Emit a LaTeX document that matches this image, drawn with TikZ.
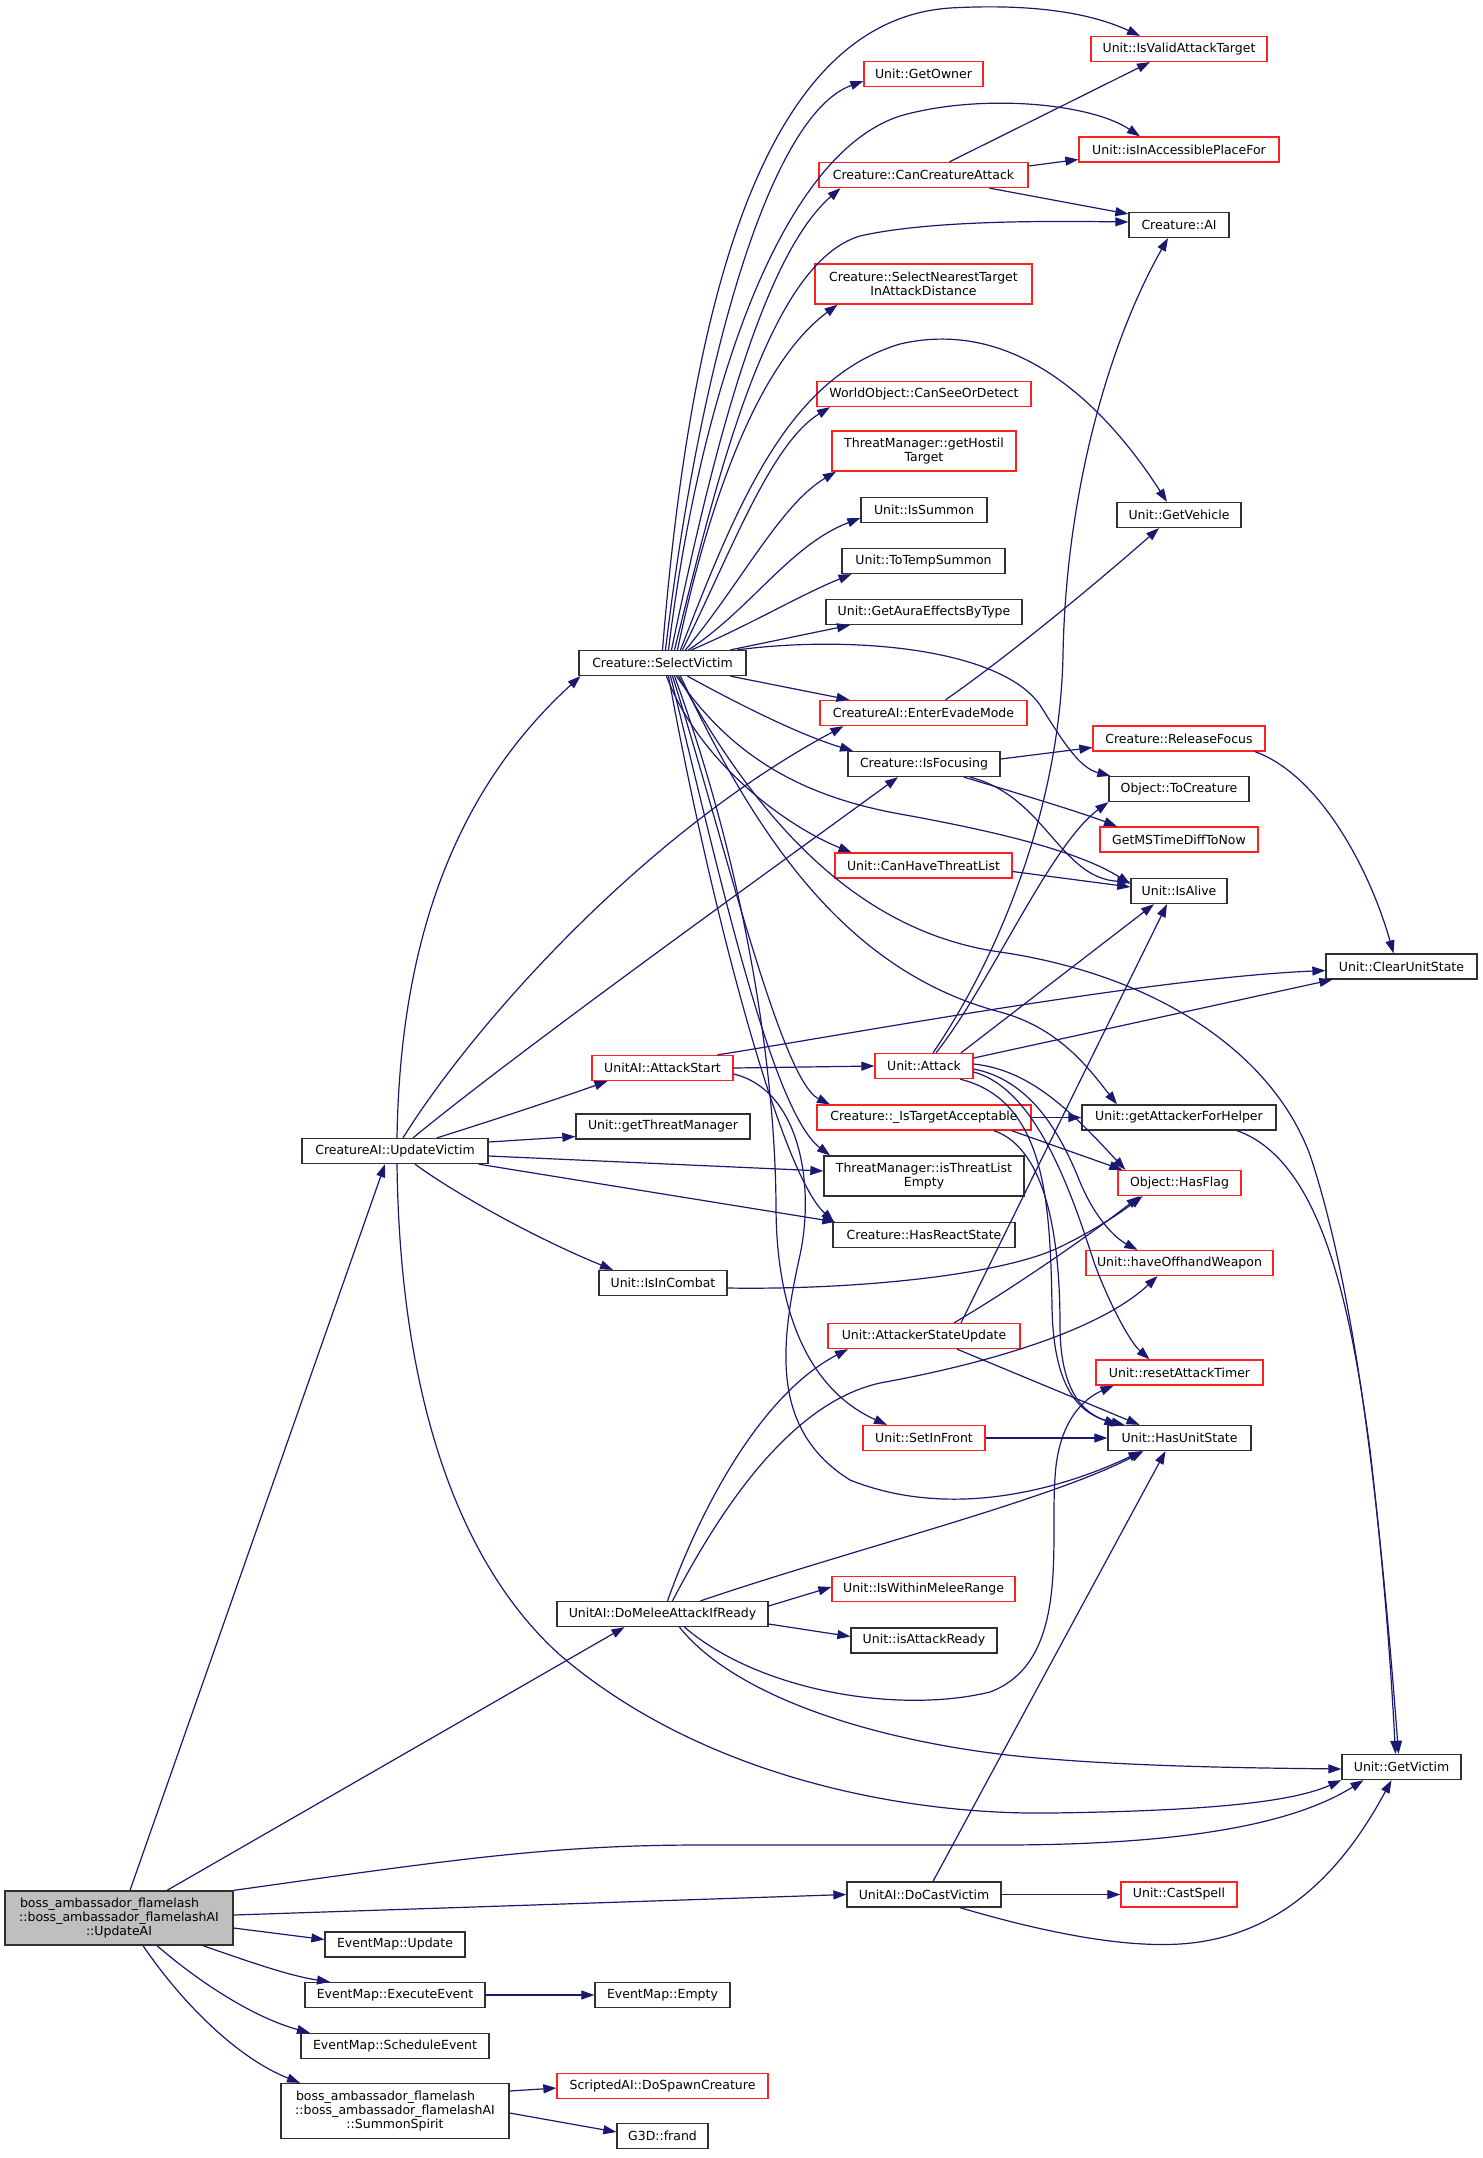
\documentclass[tikz,border=0pt]{standalone}
\usepackage{fontspec}
\newfontfamily\dv{DejaVu Sans}
\usetikzlibrary{arrows.meta}
\definecolor{mblue}{HTML}{191970}
\definecolor{nred}{HTML}{FF2020}
\definecolor{nblk}{HTML}{303030}
\definecolor{rootfill}{HTML}{BFBFBF}
\tikzset{
  nd/.style={draw=nblk, fill=white, line width=1.3pt, inner sep=0pt, minimum height=25pt, align=center,
     font=\dv\fontsize{12.5pt}{14pt}\selectfont},
  bn/.style={nd},
  rn/.style={nd, draw=nred},
  root/.style={nd, fill=rootfill},
  ed/.style={draw=mblue, line width=1.2pt, -{Triangle[length=13pt,width=9pt]}}
}
\begin{document}
\begin{tikzpicture}[x=1pt,y=-1pt]
\fill[white] (0,0) rectangle (1483,2158);
\useasboundingbox (0,0) rectangle (1483,2158);
% nodes
\node[rn, minimum width=176pt] (valid) at (1179,49) {Unit::IsValidAttackTarget};
\node[rn, minimum width=119pt] (owner) at (923.5,74) {Unit::GetOwner};
\node[rn, minimum width=200pt] (access) at (1179,149.5) {Unit::isInAccessiblePlaceFor};
\node[rn, minimum width=209pt] (cca) at (923.5,175) {Creature::CanCreatureAttack};
\node[bn, minimum width=100pt] (ai) at (1179,225) {Creature::AI};
\node[rn, minimum width=217pt, minimum height=40pt] (nearest) at (923.5,284) {Creature::SelectNearestTarget\\InAttackDistance};
\node[rn, minimum width=214pt] (cansee) at (924,394) {WorldObject::CanSeeOrDetect};
\node[rn, minimum width=184pt, minimum height=40pt] (hostil) at (924,451) {ThreatManager::getHostil\\Target};
\node[bn, minimum width=126pt] (issummon) at (924,510) {Unit::IsSummon};
\node[bn, minimum width=124pt] (vehicle) at (1179,515) {Unit::GetVehicle};
\node[bn, minimum width=163pt] (totemp) at (923.5,561) {Unit::ToTempSummon};
\node[bn, minimum width=196pt] (aura) at (924,612) {Unit::GetAuraEffectsByType};
\node[bn, minimum width=167pt] (sv) at (662.5,663) {Creature::SelectVictim};
\node[rn, minimum width=207pt] (evade) at (923.5,713) {CreatureAI::EnterEvadeMode};
\node[rn, minimum width=172pt] (release) at (1179,738.5) {Creature::ReleaseFocus};
\node[bn, minimum width=152pt] (focusing) at (924,764) {Creature::IsFocusing};
\node[bn, minimum width=140pt] (tocreature) at (1179,789) {Object::ToCreature};
\node[rn, minimum width=158pt] (mstime) at (1179,839.5) {GetMSTimeDiffToNow};
\node[rn, minimum width=177pt] (canthreat) at (923.5,865.5) {Unit::CanHaveThreatList};
\node[bn, minimum width=96pt] (isalive) at (1179,891) {Unit::IsAlive};
\node[bn, minimum width=151pt] (clear) at (1401.5,966.5) {Unit::ClearUnitState};
\node[rn, minimum width=141pt] (astart) at (662.5,1068) {UnitAI::AttackStart};
\node[rn, minimum width=98pt] (attack) at (924,1066) {Unit::Attack};
\node[rn, minimum width=214pt] (tacc) at (924,1117.5) {Creature::\_IsTargetAcceptable};
\node[bn, minimum width=194pt] (helper) at (1179,1117.5) {Unit::getAttackerForHelper};
\node[bn, minimum width=186pt] (uvictim) at (395,1151) {CreatureAI::UpdateVictim};
\node[bn, minimum width=174pt] (tmgr) at (663,1126.5) {Unit::getThreatManager};
\node[bn, minimum width=200pt, minimum height=40pt] (tempty) at (924,1176) {ThreatManager::isThreatList\\Empty};
\node[rn, minimum width=123pt] (hasflag) at (1179.5,1183) {Object::HasFlag};
\node[bn, minimum width=182pt] (react) at (924,1235) {Creature::HasReactState};
\node[rn, minimum width=187pt] (offhand) at (1179.5,1263) {Unit::haveOffhandWeapon};
\node[bn, minimum width=128pt] (incombat) at (663,1283) {Unit::IsInCombat};
\node[rn, minimum width=192pt] (asu) at (924,1336) {Unit::AttackerStateUpdate};
\node[rn, minimum width=167pt] (reset) at (1179.5,1372.5) {Unit::resetAttackTimer};
\node[rn, minimum width=122pt] (setfront) at (924,1438) {Unit::SetInFront};
\node[bn, minimum width=143pt] (hus) at (1179.5,1438) {Unit::HasUnitState};
\node[rn, minimum width=183pt] (melee) at (923.5,1589) {Unit::IsWithinMeleeRange};
\node[bn, minimum width=211pt] (domelee) at (662.5,1614) {UnitAI::DoMeleeAttackIfReady};
\node[bn, minimum width=146pt] (aready) at (924,1640.5) {Unit::isAttackReady};
\node[bn, minimum width=119pt] (getvictim) at (1401.5,1767) {Unit::GetVictim};
\node[root, minimum width=228pt, minimum height=54pt] (updateai) at (119,1918) {boss\_ambassador\_flamelash\hspace*{19pt}\\::boss\_ambassador\_flamelashAI\\::UpdateAI};
\node[bn, minimum width=154pt] (docast) at (924,1894.5) {UnitAI::DoCastVictim};
\node[rn, minimum width=116pt] (castspell) at (1179,1894.5) {Unit::CastSpell};
\node[bn, minimum width=140pt] (emupdate) at (395,1944.5) {EventMap::Update};
\node[bn, minimum width=180pt] (execute) at (395,1995) {EventMap::ExecuteEvent};
\node[bn, minimum width=135pt] (empty) at (662.5,1995) {EventMap::Empty};
\node[bn, minimum width=188pt] (schedule) at (395,2046) {EventMap::ScheduleEvent};
\node[bn, minimum width=228pt, minimum height=55pt] (summon) at (395,2111) {boss\_ambassador\_flamelash\hspace*{19pt}\\::boss\_ambassador\_flamelashAI\\::SummonSpirit};
\node[rn, minimum width=211pt] (spawn) at (662.5,2086) {ScriptedAI::DoSpawnCreature};
\node[bn, minimum width=91pt] (frand) at (662.5,2136) {G3D::frand};
% UpdateAI
\draw[ed] ([xshift=11pt]updateai.north) -- ([xshift=-10pt]uvictim.south);
\draw[ed] ([xshift=48pt]updateai.north) -- ([xshift=-38pt]domelee.south);
\draw[ed] (updateai.north east) .. controls (450,1860) and (550,1845) .. (700,1845) -- (1000,1845) .. controls (1200,1845) and (1300,1820) .. ([xshift=-38pt]getvictim.south);
\draw[ed] ([yshift=3pt]updateai.east) -- (docast.west);
\draw[ed] ([yshift=-10pt]updateai.east) -- ([yshift=5pt]emupdate.west);
\draw[ed] ([xshift=84pt]updateai.south) .. controls (250,1962) and (290,1976) .. ([xshift=-65pt]execute.north);
\draw[ed] ([xshift=38pt]updateai.south) .. controls (200,1983) and (255,2018) .. ([xshift=-85pt]schedule.north);
\draw[ed] ([xshift=24pt]updateai.south) .. controls (180,2000) and (235,2057) .. ([xshift=-95pt]summon.north);
\draw[ed] (execute.east) -- (empty.west);
\draw[ed] ([yshift=20pt]summon.east) -- ([yshift=-2pt]spawn.west);
\draw[ed] ([yshift=-2pt]summon.east) -- ([yshift=4pt]frand.west);
% DoCastVictim
\draw[ed] (docast.east) -- (castspell.west);
\draw[ed] ([xshift=9pt]docast.north) -- ([xshift=-14pt]hus.south);
\draw[ed] ([xshift=36pt]docast.south) .. controls (1060,1937) and (1130,1947) .. (1180,1944) .. controls (1290,1937) and (1350,1857) .. ([xshift=-10pt]getvictim.south);
% DoMeleeAttackIfReady
\draw[ed] ([xshift=5pt]domelee.north) .. controls (700,1510) and (760,1395) .. ([xshift=-76pt]asu.south);
\draw[ed] ([xshift=10pt]domelee.north) .. controls (720,1510) and (790,1403) .. (880,1383) .. controls (990,1363) and (1100,1330) .. ([xshift=-22pt]offhand.south);
\draw[ed] ([xshift=38pt]domelee.north) .. controls (850,1550) and (1050,1500) .. ([xshift=-36pt]hus.south);
\draw[ed] ([yshift=8pt]domelee.east) -- ([yshift=2pt]melee.west);
\draw[ed] ([yshift=-10pt]domelee.east) -- ([yshift=4pt]aready.west);
\draw[ed] ([xshift=22pt]domelee.south) .. controls (760,1692) and (900,1714) .. (990,1692) .. controls (1070,1662) and (1050,1545) .. (1055,1478) .. controls (1058,1420) and (1085,1398) .. ([xshift=-66pt]reset.south);
\draw[ed] ([xshift=17pt]domelee.south) .. controls (740,1703) and (900,1748) .. (1050,1759) .. controls (1150,1767) and (1260,1768) .. ([yshift=-2pt]getvictim.west);
% UpdateVictim
\draw[ed] ([xshift=2pt]uvictim.north) .. controls (400,950) and (450,795) .. ([xshift=-82pt]sv.south);
\draw[ed] ([xshift=8pt]uvictim.north) .. controls (470,1030) and (640,835) .. ([xshift=-80pt]evade.south);
\draw[ed] ([xshift=18pt]uvictim.north) .. controls (520,1050) and (750,885) .. ([xshift=-26pt]focusing.south);
\draw[ed] ([xshift=42pt]uvictim.north) .. controls (500,1118) and (560,1098) .. ([xshift=-55pt]astart.south);
\draw[ed] ([yshift=9pt]uvictim.east) -- ([yshift=-10pt]tmgr.west);
\draw[ed] ([yshift=-5pt]uvictim.east) -- ([yshift=5pt]tempty.west);
\draw[ed] ([xshift=-10pt]uvictim.south east) -- ([xshift=3pt]react.north west);
\draw[ed] ([xshift=20pt]uvictim.south) .. controls (450,1190) and (530,1236) .. ([xshift=-50pt]incombat.north);
\draw[ed] ([xshift=2pt]uvictim.south) .. controls (400,1400) and (460,1565) .. (560,1655) .. controls (700,1775) and (900,1815) .. (1050,1813) .. controls (1200,1811) and (1290,1803) .. (getvictim.south west);
% IsInCombat, AttackerStateUpdate, SetInFront
\draw[ed] ([yshift=-5pt]incombat.east) .. controls (850,1290) and (1000,1276) .. (1060,1247) .. controls (1095,1230) and (1120,1213) .. ([xshift=-37pt]hasflag.south);
\draw[ed] ([xshift=30pt]asu.north) .. controls (1010,1290) and (1090,1235) .. ([xshift=-40pt]hasflag.south);
\draw[ed] ([xshift=37pt]asu.north) -- ([xshift=-12pt]isalive.south);
\draw[ed] ([xshift=33pt]asu.south) -- ([xshift=-40pt]hus.north);
\draw[ed] (setfront.east) -- (hus.west);
% AttackStart
\draw[ed] (astart.east) -- (attack.west);
\draw[ed] ([xshift=55pt]astart.north) .. controls (850,1034) and (1150,978) .. ([yshift=-4pt]clear.west);
\draw[ed] ([yshift=-6pt]astart.east) .. controls (800,1090) and (815,1185) .. (800,1255) .. controls (780,1345) and (770,1430) .. (850,1480) .. controls (950,1520) and (1060,1490) .. ([xshift=-38pt]hus.south);
% SelectVictim bottom
\draw[ed] ([xshift=12pt]sv.south) .. controls (740,855) and (775,1055) .. (776,1205) .. controls (776,1330) and (820,1395) .. ([xshift=-37pt]setfront.north);
\draw[ed] ([xshift=10pt]sv.south) .. controls (720,825) and (780,1080) .. ([xshift=-94pt]tacc.north);
\draw[ed] ([xshift=8pt]sv.south) .. controls (715,855) and (770,1110) .. ([xshift=-94pt]tempty.north);
\draw[ed] ([xshift=6pt]sv.south) .. controls (710,905) and (780,1172) .. ([xshift=-90pt]react.north);
\draw[ed] ([xshift=4pt]sv.south) .. controls (700,765) and (790,828) .. ([xshift=-72pt]canthreat.north);
\draw[ed] ([xshift=14pt]sv.south) .. controls (730,755) and (800,796) .. (900,814) .. controls (1000,832) and (1080,852) .. ([yshift=7pt]isalive.west);
\draw[ed] ([xshift=16pt]sv.south) .. controls (760,825) and (860,932) .. (1000,952) .. controls (1150,974) and (1270,1048) .. (1310,1155) .. controls (1360,1305) and (1385,1555) .. ([xshift=-6pt]getvictim.north);
\draw[ed] ([xshift=18pt]sv.south) .. controls (760,845) and (850,972) .. (1000,1012) .. controls (1060,1028) and (1090,1070) .. ([xshift=-62pt]helper.north);
\draw[ed] ([xshift=68pt]sv.south) -- ([xshift=-74pt]evade.north);
\draw[ed] ([xshift=25pt]sv.south) .. controls (740,705) and (800,735) .. ([xshift=-71pt]focusing.north);
% SelectVictim top
\draw[ed] (sv.north) .. controls (690,310) and (760,21) .. (950,8) .. controls (1040,3) and (1095,15) .. ([xshift=-39pt]valid.north);
\draw[ed] ([xshift=3pt]sv.north) .. controls (700,360) and (770,115) .. ([yshift=-7pt]owner.west);
\draw[ed] ([xshift=6pt]sv.north) .. controls (700,392) and (780,155) .. (900,116) .. controls (980,93) and (1090,103) .. ([xshift=-39pt]access.north);
\draw[ed] ([xshift=9pt]sv.north) .. controls (710,465) and (760,258) .. ([xshift=-83pt]cca.south);
\draw[ed] ([xshift=12pt]sv.north) .. controls (720,465) and (770,263) .. (860,236) .. controls (930,220) and (1050,221) .. ([yshift=3pt]ai.west);
\draw[ed] ([xshift=15pt]sv.north) .. controls (710,495) and (760,362) .. ([xshift=-86pt]nearest.south);
\draw[ed] ([xshift=18pt]sv.north) .. controls (740,496) and (790,377) .. (900,344) .. controls (1020,316) and (1110,413) .. ([xshift=-12pt]vehicle.north);
\draw[ed] ([xshift=20pt]sv.north) .. controls (730,555) and (770,444) .. ([xshift=-94pt]cansee.south);
\draw[ed] ([xshift=23pt]sv.north) .. controls (740,585) and (780,505) .. ([xshift=-88pt]hostil.south);
\draw[ed] ([xshift=26pt]sv.north) .. controls (750,610) and (790,545) .. ([yshift=-8pt]issummon.west);
\draw[ed] ([xshift=29pt]sv.north) .. controls (750,625) and (800,595) .. ([xshift=-72pt]totemp.south);
\draw[ed] ([xshift=68pt]sv.north) -- ([xshift=-74pt]aura.south);
\draw[ed] ([xshift=75pt]sv.north) .. controls (850,635) and (1000,648) .. (1040,705) .. controls (1065,745) and (1080,768) .. ([xshift=2pt]tocreature.north west);
% CanCreatureAttack
\draw[ed] ([xshift=26pt]cca.north) -- ([xshift=-29pt]valid.south);
\draw[ed] ([yshift=9pt]cca.east) -- ([yshift=-10pt]access.west);
\draw[ed] ([xshift=66pt]cca.south) -- ([yshift=11pt]ai.west);
% EnterEvadeMode, IsFocusing, ReleaseFocus, CanHaveThreatList
\draw[ed] ([xshift=22pt]evade.north) .. controls (1010,655) and (1100,580) .. ([xshift=-20pt]vehicle.south);
\draw[ed] ([yshift=5pt]focusing.east) -- ([yshift=-9pt]release.west);
\draw[ed] ([xshift=40pt]focusing.south) .. controls (1010,791) and (1080,812) .. ([xshift=-62pt]mstime.north);
\draw[ed] ([xshift=46pt]focusing.south) .. controls (1045,796) and (1060,878) .. ([yshift=9pt]isalive.west);
\draw[ed] ([xshift=76pt]release.south) .. controls (1320,775) and (1370,870) .. ([xshift=-8pt]clear.north);
\draw[ed] ([yshift=-6pt]canthreat.east) -- ([yshift=4pt]isalive.west);
% Unit::Attack
\draw[ed] ([xshift=9pt]attack.north) .. controls (1000,955) and (1060,805) .. (1063,655) .. controls (1066,490) and (1110,340) .. ([xshift=-11pt]ai.south);
\draw[ed] ([xshift=12pt]attack.north) .. controls (990,985) and (1050,845) .. (tocreature.south west);
\draw[ed] ([xshift=37pt]attack.north) -- ([xshift=-25pt]isalive.south);
\draw[ed] ([yshift=8pt]attack.east) -- ([xshift=7pt]clear.south west);
\draw[ed] ([yshift=2pt]attack.east) .. controls (1030,1070) and (1070,1110) .. ([xshift=8pt]hasflag.north west);
\draw[ed] ([yshift=-3pt]attack.east) .. controls (1030,1080) and (1060,1132) .. (1080,1182) .. controls (1095,1218) and (1115,1238) .. ([xshift=-42pt]offhand.north);
\draw[ed] ([yshift=-6pt]attack.east) .. controls (1040,1090) and (1075,1205) .. (1095,1265) .. controls (1110,1305) and (1130,1342) .. ([xshift=-30pt]reset.north);
\draw[ed] ([xshift=36pt]attack.south) .. controls (1045,1100) and (1050,1200) .. (1052,1305) .. controls (1053,1390) and (1080,1415) .. ([xshift=-55pt]hus.north);
% _IsTargetAcceptable, getAttackerForHelper
\draw[ed] (tacc.east) -- (helper.west);
\draw[ed] ([xshift=-20pt]tacc.south east) -- ([xshift=5pt]hasflag.north west);
\draw[ed] ([xshift=70pt]tacc.south) .. controls (1050,1150) and (1060,1250) .. (1060,1325) .. controls (1060,1400) and (1090,1415) .. ([xshift=-62pt]hus.north);
\draw[ed] ([xshift=58pt]helper.south) .. controls (1320,1160) and (1350,1300) .. (1370,1450) .. controls (1385,1580) and (1393,1680) .. ([xshift=-3pt]getvictim.north);
\end{tikzpicture}
\end{document}
